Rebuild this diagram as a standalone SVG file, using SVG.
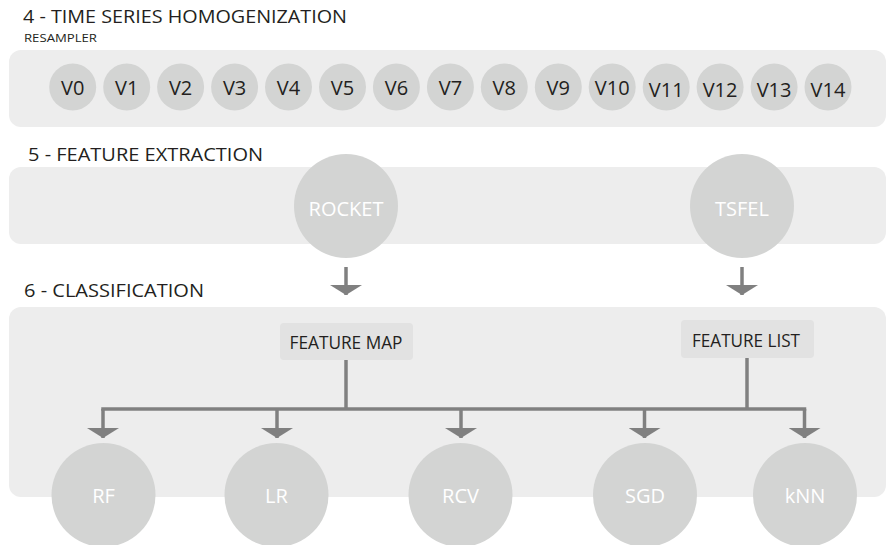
<svg xmlns="http://www.w3.org/2000/svg" width="889" height="545" viewBox="0 0 889 545">
  <defs>
    <style>
      .panel { fill: #ededed; }
      .title { font-family: "Open Sans", "Noto Sans", sans-serif; font-size: 19px; fill: #231f20; }
      .sub { font-family: "Open Sans", "Noto Sans", sans-serif; font-size: 11.5px; fill: #231f20; }
      .vnode circle { fill: #d3d4d3; }
      .vnode text { font-family: "Open Sans", "Noto Sans", sans-serif; font-size: 20px; fill: #231f20; text-anchor: middle; }
      .big circle { fill: #d3d4d3; }
      .big text { font-family: "Open Sans", "Noto Sans", sans-serif; font-size: 20px; fill: #ffffff; text-anchor: middle; }
      .label rect { fill: #e2e2e2; }
      .label text { font-family: "Open Sans", "Noto Sans", sans-serif; font-size: 18px; fill: #231f20; text-anchor: middle; }
      .wire { stroke: #808080; stroke-width: 3.5; fill: none; }
    </style>
    <marker id="head" markerUnits="userSpaceOnUse" viewBox="0 -16 10 32" markerWidth="10" markerHeight="32" refX="10" refY="0" orient="auto">
      <path d="M0,-16 L10,0 L0,16 Z" fill="#808080"/>
    </marker>
  </defs>

  <!-- section panels -->
  <rect class="panel" x="9" y="50" width="877" height="77" rx="12"/>
  <rect class="panel" x="9" y="167" width="877" height="77" rx="12"/>
  <rect class="panel" x="9" y="307" width="877" height="190" rx="12"/>

  <!-- section titles -->
  <text class="title" x="23" y="23" textLength="324" lengthAdjust="spacingAndGlyphs">4 - TIME SERIES HOMOGENIZATION</text>
  <text class="sub" x="24" y="41.5" textLength="73" lengthAdjust="spacingAndGlyphs">RESAMPLER</text>
  <text class="title" x="28" y="160.5" textLength="235" lengthAdjust="spacingAndGlyphs">5 - FEATURE EXTRACTION</text>
  <text class="title" x="24" y="297" textLength="180" lengthAdjust="spacingAndGlyphs">6 - CLASSIFICATION</text>

  <!-- resampled variables -->
  <g id="v0" class="vnode"><circle cx="72.7" cy="87" r="23.5"/><text x="72.7" y="95">V0</text></g>
  <g id="v1" class="vnode"><circle cx="126.7" cy="87" r="23.5"/><text x="126.7" y="95">V1</text></g>
  <g id="v2" class="vnode"><circle cx="180.6" cy="87" r="23.5"/><text x="180.6" y="95">V2</text></g>
  <g id="v3" class="vnode"><circle cx="234.6" cy="87" r="23.5"/><text x="234.6" y="95">V3</text></g>
  <g id="v4" class="vnode"><circle cx="288.5" cy="87" r="23.5"/><text x="288.5" y="95">V4</text></g>
  <g id="v5" class="vnode"><circle cx="342.5" cy="87" r="23.5"/><text x="342.5" y="95">V5</text></g>
  <g id="v6" class="vnode"><circle cx="396.4" cy="87" r="23.5"/><text x="396.4" y="95">V6</text></g>
  <g id="v7" class="vnode"><circle cx="450.4" cy="87" r="23.5"/><text x="450.4" y="95">V7</text></g>
  <g id="v8" class="vnode"><circle cx="504.3" cy="87" r="23.5"/><text x="504.3" y="95">V8</text></g>
  <g id="v9" class="vnode"><circle cx="558.3" cy="87" r="23.5"/><text x="558.3" y="95">V9</text></g>
  <g id="v10" class="vnode"><circle cx="612.2" cy="87" r="23.5"/><text x="612.2" y="94.5">V10</text></g>
  <g id="v11" class="vnode"><circle cx="666.2" cy="87" r="23.5"/><text x="666.2" y="97">V11</text></g>
  <g id="v12" class="vnode"><circle cx="720.1" cy="87" r="23.5"/><text x="720.1" y="97">V12</text></g>
  <g id="v13" class="vnode"><circle cx="774.1" cy="87" r="23.5"/><text x="774.1" y="97">V13</text></g>
  <g id="v14" class="vnode"><circle cx="828" cy="87" r="23.5"/><text x="828" y="97">V14</text></g>

  <!-- feature extractors -->
  <g id="rocket" class="big"><circle cx="346" cy="206" r="52"/><text x="346" y="216">ROCKET</text></g>
  <g id="tsfel" class="big"><circle cx="742" cy="206" r="52"/><text x="742" y="216">TSFEL</text></g>

  <!-- extracted feature outputs -->
  <g id="feature-map" class="label"><rect x="280" y="323" width="133" height="37" rx="4"/><text x="346" y="349" textLength="113" lengthAdjust="spacingAndGlyphs">FEATURE MAP</text></g>
  <g id="feature-list" class="label"><rect x="681" y="320" width="133" height="38" rx="4"/><text x="746" y="347" textLength="108" lengthAdjust="spacingAndGlyphs">FEATURE LIST</text></g>

  <!-- connectors -->
  <g id="connectors" class="wire">
    <line x1="346" y1="267" x2="346" y2="295" marker-end="url(#head)"/>
    <line x1="742" y1="267" x2="742" y2="295" marker-end="url(#head)"/>
    <line x1="346" y1="360" x2="346" y2="409"/>
    <line x1="747" y1="358" x2="747" y2="409"/>
    <path d="M101.25,409 H806.25"/>
    <line x1="103" y1="409" x2="103" y2="438" marker-end="url(#head)"/>
    <line x1="277" y1="409" x2="277" y2="438" marker-end="url(#head)"/>
    <line x1="461" y1="409" x2="461" y2="438" marker-end="url(#head)"/>
    <line x1="644.5" y1="409" x2="644.5" y2="438" marker-end="url(#head)"/>
    <line x1="804.5" y1="409" x2="804.5" y2="438" marker-end="url(#head)"/>
  </g>

  <!-- classifiers -->
  <g id="rf" class="big"><circle cx="103.5" cy="495" r="52"/><text x="103.5" y="503">RF</text></g>
  <g id="lr" class="big"><circle cx="276.5" cy="495" r="52"/><text x="276.5" y="503">LR</text></g>
  <g id="rcv" class="big"><circle cx="460.5" cy="495" r="52"/><text x="460.5" y="503">RCV</text></g>
  <g id="sgd" class="big"><circle cx="645" cy="495" r="52"/><text x="645" y="503">SGD</text></g>
  <g id="knn" class="big"><circle cx="805" cy="495" r="52"/><text x="805" y="503">kNN</text></g>
</svg>
